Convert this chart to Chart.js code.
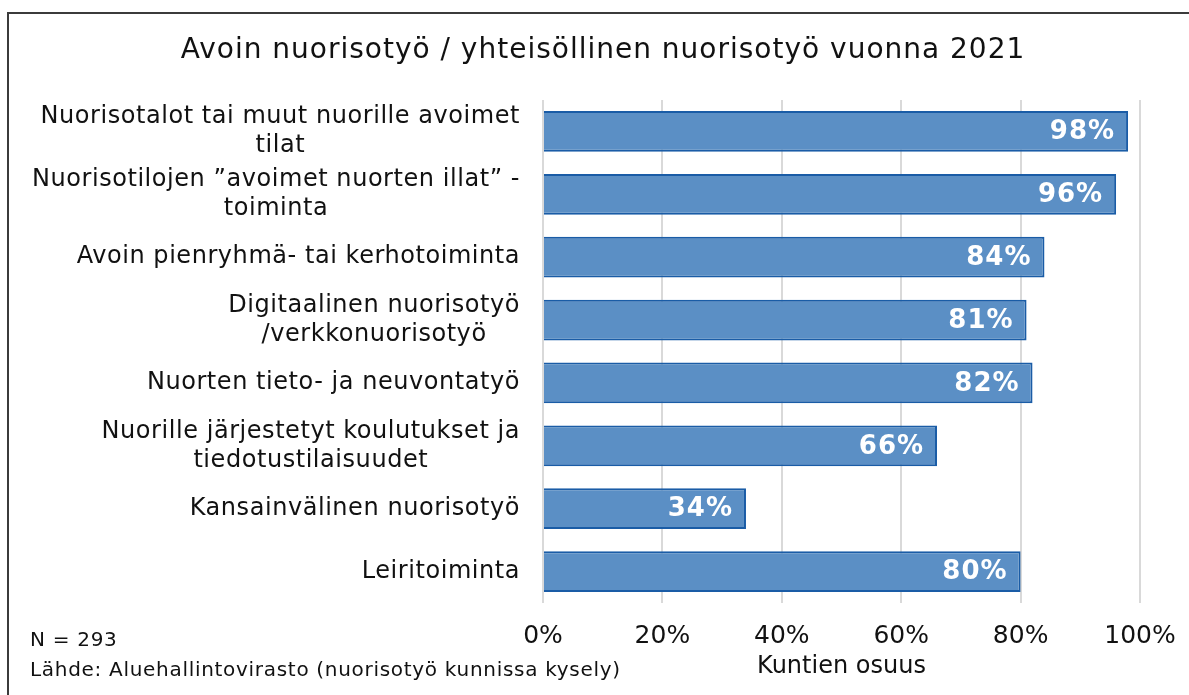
<!DOCTYPE html>
<html>
<head>
<meta charset="utf-8">
<script src="https://cdn.jsdelivr.net/npm/chart.js@4"></script>
<style>
  html, body { margin: 0; padding: 0; background: #fff; overflow: hidden; width: 1189px; height: 695px; }
  #frame { position: absolute; left: 7px; top: 12px; width: 1200px; height: 700px; border: 2px solid #3b3b3b; box-sizing: border-box; }
  #wrap { position: absolute; left: 9px; top: 14px; width: 1180px; height: 681px; }
</style>
</head>
<body>
<div id="frame"></div>
<div id="wrap"><canvas id="c" width="1180" height="681"></canvas></div>
<script>
const chartTitle = 'Avoin nuorisotyö / yhteisöllinen nuorisotyö vuonna 2021';
const categories = [
  ['Nuorisotalot tai muut nuorille avoimet', 'tilat'],
  ['Nuorisotilojen ”avoimet nuorten illat” -', 'toiminta'],
  ['Avoin pienryhmä- tai kerhotoiminta'],
  ['Digitaalinen nuorisotyö', '/verkkonuorisotyö'],
  ['Nuorten tieto- ja neuvontatyö'],
  ['Nuorille järjestetyt koulutukset ja', 'tiedotustilaisuudet'],
  ['Kansainvälinen nuorisotyö'],
  ['Leiritoiminta']
];
const shares = [98, 96, 84, 81, 82, 66, 34, 80];
const xTicks = [0, 20, 40, 60, 80, 100];
const xAxisTitle = 'Kuntien osuus';
const footnotes = ['N = 293', 'Lähde: Aluehallintovirasto (nuorisotyö kunnissa kysely)'];

const FONT = "'DejaVu Sans', Verdana, sans-serif";

const customDraw = {
  id: 'customDraw',
  afterDatasetsDraw(chart) {
    const ctx = chart.ctx;
    const meta = chart.getDatasetMeta(0);
    ctx.save();
    ctx.fillStyle = '#ffffff';
    ctx.font = 'bold 26px ' + FONT;
    ctx.letterSpacing = '1px';
    ctx.textAlign = 'right';
    ctx.textBaseline = 'middle';
    meta.data.forEach((bar, i) => {
      ctx.fillText(shares[i] + '%', bar.x - 13, bar.y + 1);
    });
    ctx.restore();
  },
  afterDraw(chart) {
    const ctx = chart.ctx;
    const yScale = chart.scales.y;
    ctx.save();
    ctx.fillStyle = '#111111';
    ctx.textBaseline = 'middle';
    // title
    ctx.font = '28px ' + FONT;
    ctx.letterSpacing = '1px';
    ctx.textAlign = 'center';
    ctx.fillText(chartTitle, 594, 37);
    // category labels
    ctx.font = '24px ' + FONT;
    ctx.letterSpacing = '0.55px';
    const xRight = chart.chartArea.left - 23;
    const lh = 29;
    categories.forEach((lines, i) => {
      const yc = yScale.getPixelForTick(i);
      const w = Math.max(...lines.map(l => ctx.measureText(l).width));
      const cx = xRight - w / 2;
      const y0 = yc - (lines.length - 1) * lh / 2;
      lines.forEach((l, j) => ctx.fillText(l, cx, y0 + j * lh));
    });
    // footnotes
    ctx.font = '20px ' + FONT;
    ctx.letterSpacing = '0.7px';
    ctx.textAlign = 'left';
    ctx.fillText(footnotes[0], 21, 627);
    ctx.fillText(footnotes[1], 21, 657);
    ctx.restore();
  }
};

new Chart(document.getElementById('c'), {
  type: 'bar',
  data: {
    labels: categories,
    datasets: [{
      data: shares,
      backgroundColor: '#5b8fc5',
      borderColor: '#1a5ca6',
      borderWidth: 2,
      barPercentage: 0.65,
      categoryPercentage: 1
    }]
  },
  options: {
    indexAxis: 'y',
    responsive: false,
    animation: false,
    layout: { padding: { left: 8, right: 49, top: 86, bottom: 0 } },
    plugins: {
      legend: { display: false },
      tooltip: { enabled: false },
      title: { display: false }
    },
    scales: {
      x: {
        min: 0, max: 100,
        afterBuildTicks(scale) { scale.ticks = xTicks.map(v => ({ value: v })); },
        afterFit(scale) { scale.height = 92; scale.paddingRight = 0; scale.paddingLeft = 0; },
        grid: { color: '#d9d9d9', lineWidth: 2, drawTicks: false },
        border: { display: false },
        ticks: {
          color: '#111111',
          font: { family: FONT, size: 25 },
          padding: 18,
          maxRotation: 0,
          callback: v => v + '%'
        },
        title: {
          display: true,
          text: xAxisTitle,
          color: '#111111',
          font: { family: FONT, size: 24 },
          padding: { top: 2, bottom: 14 }
        }
      },
      y: {
        afterFit(scale) { scale.width = 526; },
        grid: { display: false },
        border: { display: false },
        ticks: { display: false }
      }
    }
  },
  plugins: [customDraw]
});
</script>
</body>
</html>
